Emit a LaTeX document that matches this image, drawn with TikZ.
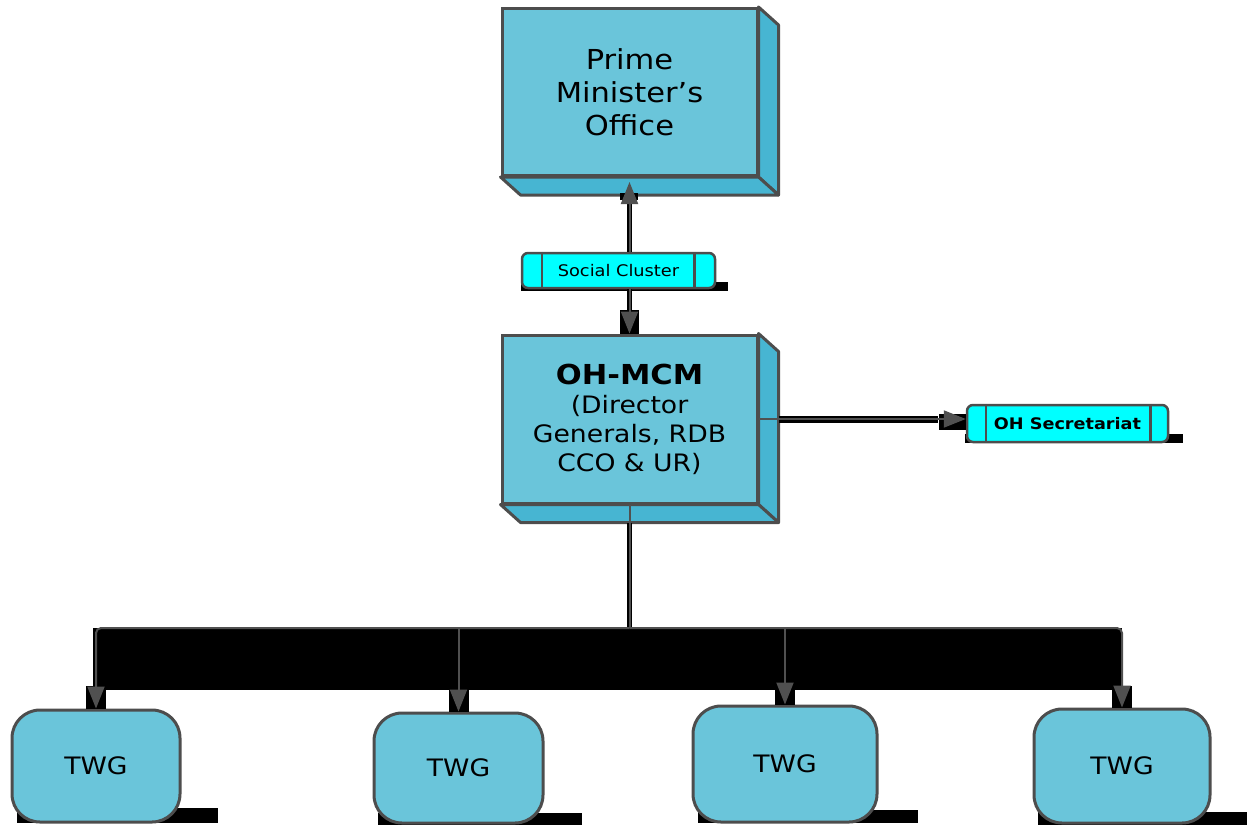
\documentclass[tikz,border=0pt]{standalone}
\usepackage{fontspec}
\setmainfont{DejaVu Sans}[FakeStretch=1.11]
\usetikzlibrary{arrows.meta}
\definecolor{face}{HTML}{6AC5DA}
\definecolor{side}{HTML}{47B5D2}
\definecolor{edge}{HTML}{4D4D4D}
\definecolor{conncol}{HTML}{505050}
\definecolor{tag}{HTML}{00FFFF}
\tikzset{
  frontbox/.style={draw=edge, line width=3pt, fill=face, inner sep=0pt, align=center, text=black},
  sideface/.style={draw=edge, line width=3pt, fill=side, line join=round},
  tagbox/.style={draw=edge, line width=2.5pt, fill=tag, rounded corners=6pt, inner sep=0pt, text=black},
  twgbox/.style={draw=edge, line width=3pt, fill=face, rounded corners=28pt, inner sep=0pt,
    font=\fontsize{24}{29}\selectfont, text=black},
  conn/.style={draw=conncol, line width=2pt},
  under/.style={draw=black, line width=5pt},
  tip/.style={-{Triangle[length=22pt 0, width=17pt 0]}},
  blk/.style={fill=black},
}
\begin{document}
\begin{tikzpicture}[x=1pt,y=-1pt]
\useasboundingbox (0,0) rectangle (1247,825);

% --- shadows / black artefacts behind shapes
\fill[blk] (521,282) rectangle (728,291);
\fill[blk] (965,434) rectangle (1183,443);
\fill[blk] (93,628) rectangle (1122,690);
\fill[blk] (17,808) rectangle (218,823);
\fill[blk] (378,813) rectangle (582,825);
\fill[blk] (698,810) rectangle (918,823);
\fill[blk] (1038,812) rectangle (1247,825);

% --- Prime Minister's Office (3D box)
\node[frontbox, minimum width=255pt, minimum height=167pt,
  font=\fontsize{27.5}{33}\selectfont] (pmo) at (629.5,92)
  {Prime\\Minister’s\\Office};
\draw[sideface] (pmo.north east) -- ++(20,18) -- ([shift={(20pt,-18pt)}]pmo.south east) -- (pmo.south east) -- cycle;
\draw[sideface] (pmo.south west) -- (pmo.south east) -- ([shift={(20pt,-18pt)}]pmo.south east) -- ([shift={(20pt,-18pt)}]pmo.south west) -- cycle;

% --- OH-MCM (3D box)
\node[frontbox, minimum width=255pt, minimum height=168pt,
  font=\fontsize{24}{29}\selectfont] (ohmcm) at (629.5,419)
  {{\bfseries\fontsize{27.5}{30}\selectfont OH-MCM}\\(Director\\Generals, RDB\\CCO \& UR)};
\draw[sideface] (ohmcm.north east) -- ++(20,18) -- ([shift={(20pt,-18pt)}]ohmcm.south east) -- (ohmcm.south east) -- cycle;
\draw[sideface] (ohmcm.south west) -- (ohmcm.south east) -- ([shift={(20pt,-18pt)}]ohmcm.south east) -- ([shift={(20pt,-18pt)}]ohmcm.south west) -- cycle;

% --- Social Cluster tag
\node[tagbox, minimum width=193pt, minimum height=35pt,
  font=\fontsize{16}{18}\selectfont] (social) at (618.5,270.5) {Social Cluster};
\draw[edge, line width=2.5pt] ([xshift=21pt]social.north west) -- ([xshift=21pt]social.south west);
\draw[edge, line width=2.5pt] ([xshift=-22pt]social.north east) -- ([xshift=-22pt]social.south east);

% --- OH Secretariat tag
\node[tagbox, minimum width=201pt, minimum height=37pt,
  font=\bfseries\fontsize{15.9}{18}\selectfont] (ohsec) at (1067.5,423.5) {OH Secretariat};
\draw[edge, line width=2.5pt] ([xshift=20pt]ohsec.north west) -- ([xshift=20pt]ohsec.south west);
\draw[edge, line width=2.5pt] ([xshift=-19pt]ohsec.north east) -- ([xshift=-19pt]ohsec.south east);

% --- TWG boxes
\node[twgbox, minimum width=168pt, minimum height=112pt] (twg1) at (96,766) {TWG};
\node[twgbox, minimum width=169pt, minimum height=110pt] (twg2) at (458.5,768) {TWG};
\node[twgbox, minimum width=184pt, minimum height=116pt] (twg3) at (785,764) {TWG};
\node[twgbox, minimum width=176pt, minimum height=114pt] (twg4) at (1122,766) {TWG};

% --- black blocks behind arrowheads
\fill[blk] (620,193) rectangle (638,200);
\fill[blk] (620,310) rectangle (639,334);
\fill[blk] (939,414) rectangle (966,430);
\foreach \t in {twg1,twg2,twg3,twg4}{
  \fill[blk] ([xshift=-10pt]\t.north |- 0,686) rectangle ([xshift=10pt]\t.north);
}

% --- connectors
\coordinate (bus) at (ohmcm.south |- 0,628);
% Social Cluster -> PMO
\draw[under, shorten >=18pt] (pmo.south |- social.north) -- ([yshift=-5pt]pmo.south);
\draw[conn, tip] (pmo.south |- social.north) -- ([yshift=-5pt]pmo.south);
% Social Cluster -> OH-MCM
\draw[under, shorten >=18pt] (ohmcm.north |- social.south) -- (ohmcm.north);
\draw[conn, tip] (ohmcm.north |- social.south) -- (ohmcm.north);
% OH-MCM -> OH Secretariat
\draw[black, line width=7pt] ([xshift=20pt]ohmcm.east) -- ([xshift=-28pt]ohmcm.east -| ohsec.west);
\draw[conn, tip] (ohmcm.east) -- (ohmcm.east -| ohsec.west);
% OH-MCM -> bus
\draw[under] ([yshift=-18pt]ohmcm.south) -- (bus);
\draw[conn] (ohmcm.south) -- (bus);
% bus -> TWGs
\draw[conn, tip, rounded corners=5pt] (bus) -| (twg1.north);
\draw[conn, tip, rounded corners=5pt] (bus) -| (twg4.north);
\draw[conn, tip] (bus -| twg2.north) -- (twg2.north);
\draw[conn, tip] (bus -| twg3.north) -- (twg3.north);
\end{tikzpicture}
\end{document}
